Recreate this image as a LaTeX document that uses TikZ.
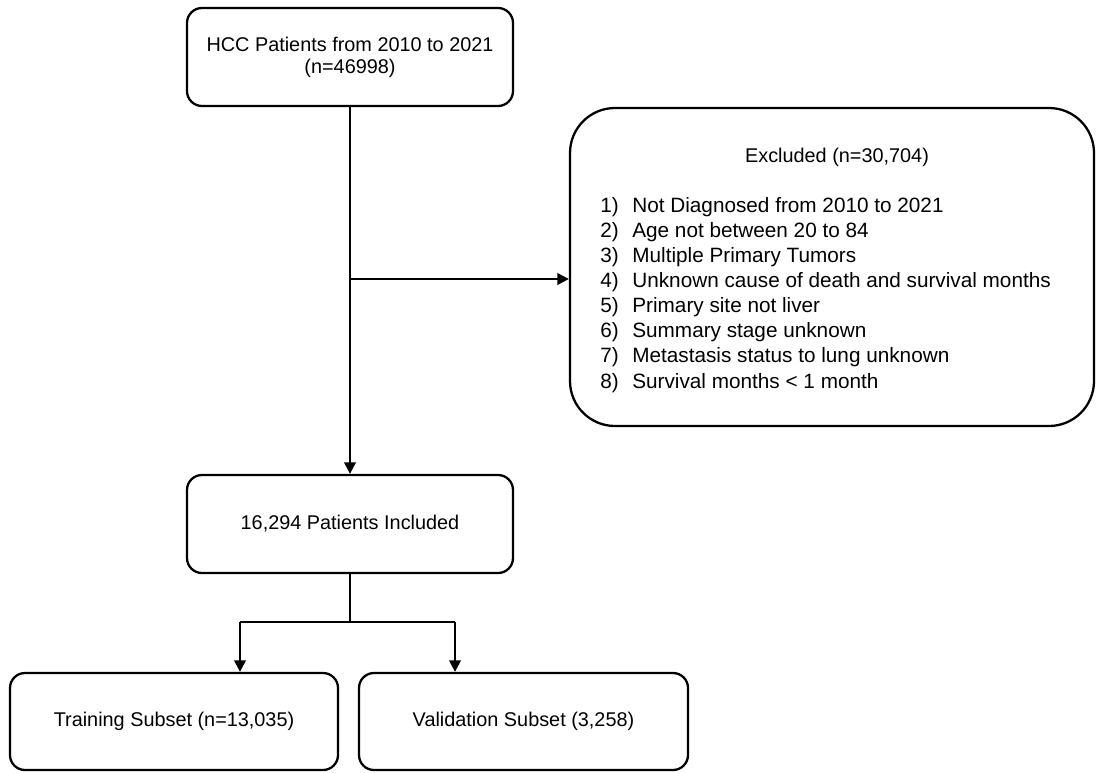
\documentclass[tikz,border=0pt]{standalone}
\usepackage{fontspec}
\setmainfont{Liberation Sans}
\usepackage{xcolor}
\usepackage{tikz}
\usetikzlibrary{arrows.meta,positioning,calc}

\begin{document}
\begin{tikzpicture}[font=\fontsize{11.3pt}{12.6pt}\selectfont,
  box/.style={draw, line width=1.3pt, rounded corners=0.3cm, align=center, inner sep=0pt},
  arr/.style={line width=1.3pt, -{Triangle[length=6.5pt,width=6.5pt]}},
  link/.style={line width=1.3pt}]
\useasboundingbox (0,0) rectangle (21.92,-15.44);
% boxes
\node[box, minimum width=6.52cm, minimum height=1.96cm] (hcc) at (7.0,-1.14) {HCC Patients from 2010 to 2021\\ (n=46998)};
\node[box, minimum width=10.48cm, minimum height=6.36cm, rounded corners=0.9cm] (excl) at (16.64,-5.34) {};
\node[anchor=base] (exclhead) at (16.74,-3.24) {Excluded (n=30,704)};
\node[anchor=base west, align=left, inner sep=0pt, font=\fontsize{11.8pt}{14.3pt}\selectfont] (excllist) at (12.0,-7.76) {%
\makebox[0.64cm][l]{1)}Not Diagnosed from 2010 to 2021\\
\makebox[0.64cm][l]{2)}Age not between 20 to 84\\
\makebox[0.64cm][l]{3)}Multiple Primary Tumors\\
\makebox[0.64cm][l]{4)}Unknown cause of death and survival months\\
\makebox[0.64cm][l]{5)}Primary site not liver\\
\makebox[0.64cm][l]{6)}Summary stage unknown\\
\makebox[0.64cm][l]{7)}Metastasis status to lung unknown\\
\makebox[0.64cm][l]{8)}Survival months < 1 month};
\node[box, minimum width=6.52cm, minimum height=1.96cm] (incl) at (7.0,-10.48) {16,294 Patients Included};
\node[box, minimum width=6.56cm, minimum height=1.94cm] (train) at (3.48,-14.43) {Training Subset (n=13,035)};
\node[box, minimum width=6.58cm, minimum height=1.94cm] (valid) at (10.47,-14.43) {Validation Subset (3,258)};
% connectors
\coordinate (branch) at (7.0,-5.58);
\coordinate (split) at (7.0,-12.44);
\coordinate (sl) at (4.8,-12.44);
\coordinate (sr) at (9.1,-12.44);
\draw[arr] (hcc.south) -- (incl.north);
\draw[arr] (branch) -- (branch -| excl.west);
\draw[link] (incl.south) -- (split);
\draw[link] (sl) -- (sr);
\draw[arr] (sl) -- (sl |- train.north);
\draw[arr] (sr) -- (sr |- valid.north);
\end{tikzpicture}
\end{document}
